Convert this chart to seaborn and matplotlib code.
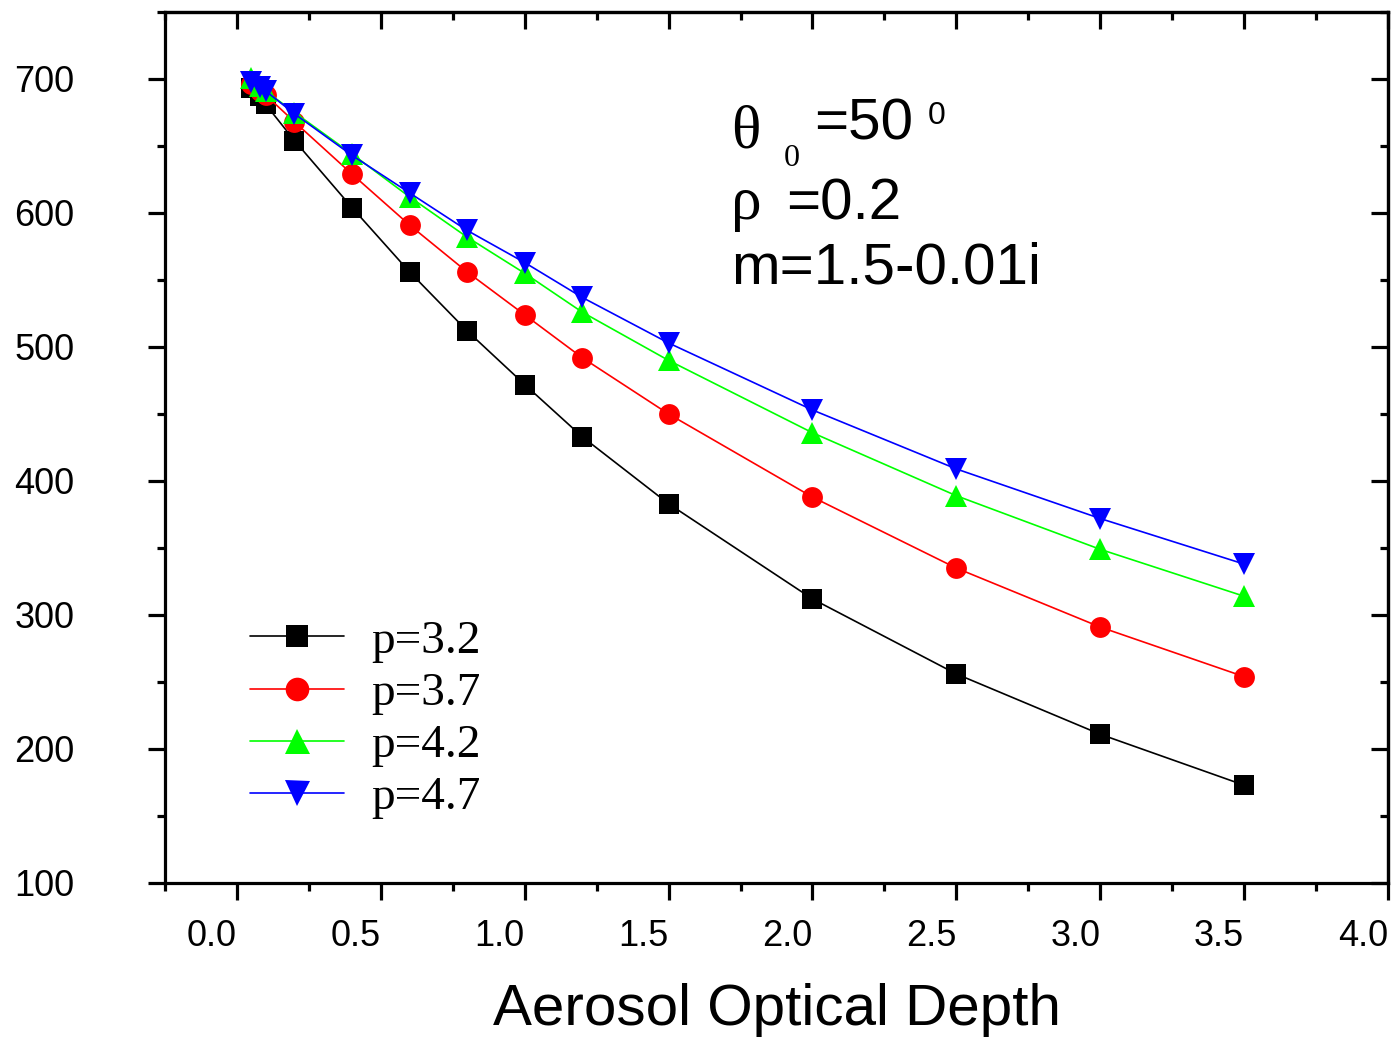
import matplotlib
matplotlib.use("Agg")
import matplotlib.pyplot as plt
import seaborn as sns
from matplotlib.ticker import MultipleLocator

# aerosol optical depth (x) and the four curves
depth = [0.05, 0.08, 0.1, 0.2, 0.4, 0.6, 0.8, 1.0, 1.2, 1.5, 2.0, 2.5, 3.0, 3.5]
p32 = [693, 687, 681, 654, 604, 556, 512, 472, 433, 383, 312, 256, 211, 173]
p37 = [696, 691, 688, 668, 629, 591, 556, 524, 492, 450, 388, 335, 291, 254]
p42 = [701, 695, 691, 675, 644, 612, 582, 555, 526, 490, 436, 389, 349, 314]
p47 = [698, 694, 691, 674, 643, 615, 587, 563, 537, 503, 453, 409, 372, 338]

labels = ["p=3.2", "p=3.7", "p=4.2", "p=4.7"]
colors = ["black", "#ff0000", "#00ff00", "#0000ff"]
markers = ["s", "o", "^", "v"]
msizes = [14, 15, 16, 16]

sns.set_style("ticks")
plt.rcParams["font.family"] = ["Liberation Sans", "DejaVu Sans"]
for k in ("text.color", "axes.labelcolor", "xtick.color", "ytick.color", "axes.edgecolor"):
    plt.rcParams[k] = "black"

W, H = 1395, 1046
fig = plt.figure(figsize=(W / 100, H / 100), dpi=100)
ax = fig.add_axes([165 / W, 1 - 883 / H, (1388 - 165) / W, (883 - 12) / H])

for yv, lab, c, mk, ms in zip([p32, p37, p42, p47], labels, colors, markers, msizes):
    sns.lineplot(x=depth, y=yv, ax=ax, color=c, marker=mk, markersize=ms,
                 markeredgewidth=0, linewidth=1.2, label=lab)

ax.set_xlim(-0.25, 4.0)
ax.set_ylim(100, 750)
ax.xaxis.set_major_locator(MultipleLocator(0.5))
ax.xaxis.set_minor_locator(MultipleLocator(0.25))
ax.yaxis.set_major_locator(MultipleLocator(100))
ax.yaxis.set_minor_locator(MultipleLocator(50))

lw = 2.3
for s in ax.spines.values():
    s.set_linewidth(lw)
    s.set_visible(True)
ax.tick_params(which="major", direction="out", length=12, width=lw, labelsize=26)
ax.tick_params(which="minor", direction="out", length=6, width=lw)
ax.tick_params(axis="y", pad=53)
ax.tick_params(axis="x", pad=14)
for t in ax.get_xticklabels():
    t.set_ha("right")

# inward ticks on top and right
top = ax.secondary_xaxis("top")
top.xaxis.set_major_locator(MultipleLocator(0.5))
top.xaxis.set_minor_locator(MultipleLocator(0.25))
top.tick_params(which="major", direction="in", length=12, width=lw, labeltop=False)
top.tick_params(which="minor", direction="in", length=6, width=lw)
right = ax.secondary_yaxis("right")
right.yaxis.set_major_locator(MultipleLocator(100))
right.yaxis.set_minor_locator(MultipleLocator(50))
right.tick_params(which="major", direction="in", length=12, width=lw, labelright=False)
right.tick_params(which="minor", direction="in", length=6, width=lw)
for sec in (top, right):
    for s in sec.spines.values():
        s.set_linewidth(lw)

ax.set_xlabel("Aerosol Optical Depth", fontsize=42, labelpad=21)
ax.set_ylabel("")

leg = ax.legend(loc="upper left", bbox_to_anchor=(0.0695, 0.302), frameon=False,
                prop={"family": "Liberation Serif", "size": 34},
                handlelength=2.0, handletextpad=0.57, labelspacing=0.19,
                borderpad=0, borderaxespad=0)
for h, ms in zip(leg.legend_handles, msizes):
    h.set_markersize(ms + 2)


def px(x, y):
    return x / W, 1 - y / H


serif = "Liberation Serif"
fig.text(*px(731, 148), "θ", family=serif, fontsize=44, va="baseline")
fig.text(*px(784, 166), "0", family=serif, fontsize=23, va="baseline")
fig.text(*px(814, 140), "=50", fontsize=42, va="baseline")
fig.text(*px(928, 124), "0", fontsize=23, va="baseline")
fig.text(*px(731, 219), "ρ", family=serif, fontsize=44, va="baseline")
fig.text(*px(786, 219), "=0.2", fontsize=42, va="baseline")
fig.text(*px(731, 283), "m=1.5-0.01i", fontsize=42, va="baseline")

fig.savefig("out.png", dpi=100)
